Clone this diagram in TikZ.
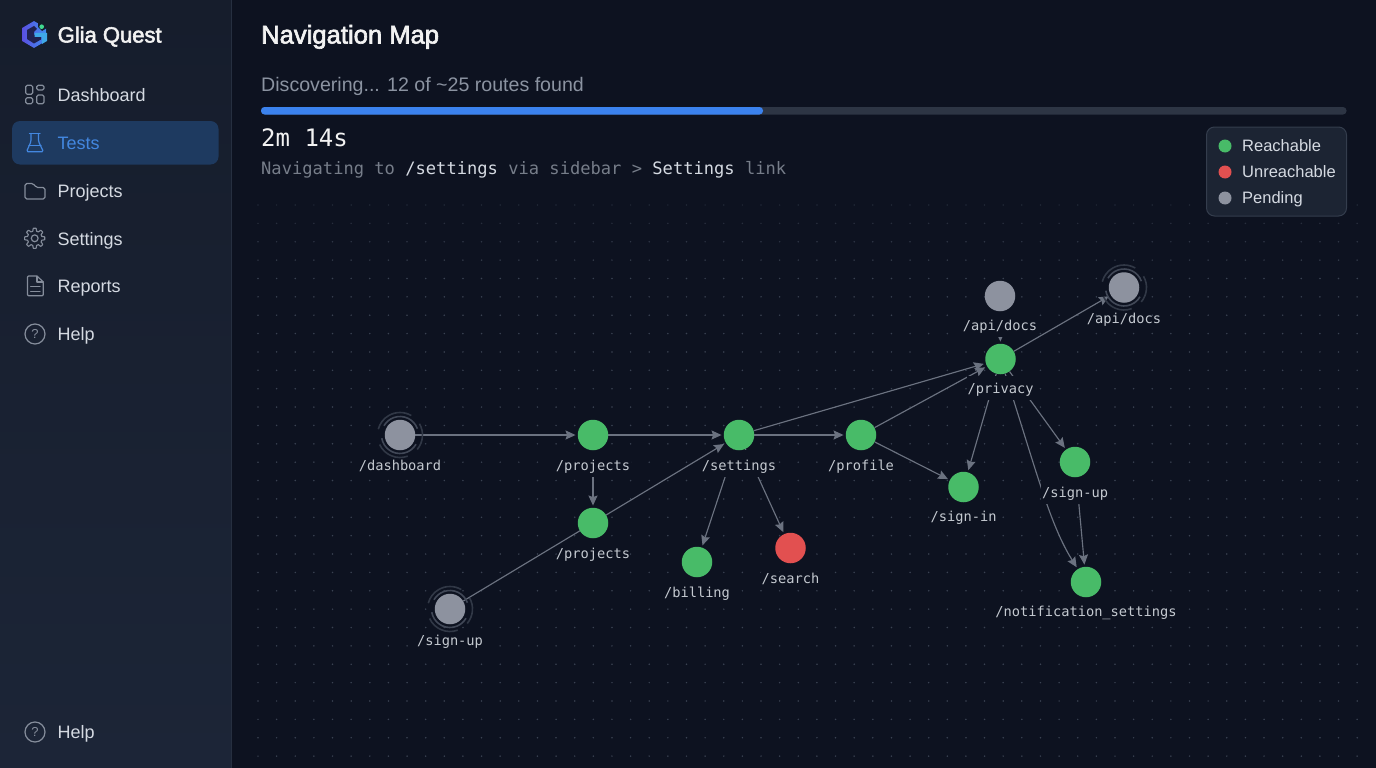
\documentclass[tikz,border=0pt]{standalone}
\usepackage{fontspec}
\setmainfont{Liberation Sans}
\setmonofont{DejaVu Sans Mono}
\newfontfamily\medfont[FakeBold=2.5]{Liberation Sans}
\usetikzlibrary{arrows.meta,shapes.geometric}
\pgfdeclarelayer{bglayer}
\pgfdeclarelayer{edgelayer}
\pgfsetlayers{bglayer,edgelayer,main}
\definecolor{bgmain}{HTML}{0D1220}
\definecolor{sidetop}{HTML}{161D2C}
\definecolor{sidebot}{HTML}{1C2537}
\definecolor{sideline}{HTML}{262F40}
\definecolor{navtext}{HTML}{D5DAE2}
\definecolor{icongray}{HTML}{858D9B}
\definecolor{activebg}{HTML}{1E3A60}
\definecolor{activefg}{HTML}{4387E0}
\definecolor{dimtext}{HTML}{8B93A1}
\definecolor{track}{HTML}{2D3544}
\definecolor{barblue}{HTML}{3B82EE}
\definecolor{legbg}{HTML}{1C2433}
\definecolor{legline}{HTML}{343D4D}
\definecolor{ok}{HTML}{48BB68}
\definecolor{bad}{HTML}{E25050}
\definecolor{pend}{HTML}{8D929F}
\definecolor{edgec}{HTML}{6B7280}
\definecolor{ringc}{HTML}{414857}
\definecolor{dotc}{HTML}{3A4252}
\definecolor{logoa}{HTML}{5A4FE0}
\definecolor{logob}{HTML}{3F8DF0}
\definecolor{logoc}{HTML}{20214F}
\definecolor{logod}{HTML}{3FA8E8}
\definecolor{logoe}{HTML}{40D890}
\tikzset{
  x=1pt,y=-1pt,
  navlabel/.style={anchor=base west,inner sep=0,text=navtext,font=\fontsize{18}{20}\selectfont},
  iconline/.style={draw=icongray,line width=1.2pt,line join=round,line cap=round},
  routedot/.style={circle,minimum size=30.5pt,inner sep=0},
  okdot/.style={routedot,fill=ok},
  baddot/.style={routedot,fill=bad},
  penddot/.style={routedot,fill=pend},
  routelabel/.style={anchor=base,fill=bgmain,inner xsep=1pt,inner ysep=0pt,text height=11pt,text depth=4pt,text=navtext!92!black,font=\ttfamily\fontsize{13.7}{15}\selectfont},
  tallabel/.style={routelabel,text height=20pt,text depth=7pt},
  edge/.style={draw=edgec,line width=1.15pt,-{Stealth[length=10pt,width=9pt,inset=1.5pt]},shorten >=2pt},
  legendlabel/.style={anchor=base west,inner sep=0,text=navtext,font=\fontsize{16.5}{18}\selectfont},
  legenddot/.style={circle,minimum size=13pt,inner sep=0},
  ringarc/.style={draw=ringc,line width=1.6pt},
}
\newcommand{\ringsat}[1]{%
  \draw[ringarc] (#1) ++(20:18.5pt) arc[start angle=20,end angle=150,radius=18.5pt];
  \draw[ringarc] (#1) ++(190:18.5pt) arc[start angle=190,end angle=330,radius=18.5pt];
  \draw[ringarc,draw=ringc!70!bgmain] (#1) ++(60:22.5pt) arc[start angle=60,end angle=165,radius=22.5pt];
  \draw[ringarc,draw=ringc!70!bgmain] (#1) ++(205:22.5pt) arc[start angle=205,end angle=290,radius=22.5pt];
  \draw[ringarc,draw=ringc!70!bgmain] (#1) ++(-40:22.5pt) arc[start angle=-40,end angle=30,radius=22.5pt];
}
\begin{document}
\begin{tikzpicture}
\useasboundingbox (0,0) rectangle (1376,768);
\begin{pgfonlayer}{bglayer}
% backgrounds
\fill[bgmain] (0,0) rectangle (1376,768);
\shade[top color=sidetop,bottom color=sidebot] (0,0) rectangle (231,768);
\fill[sideline] (230.5,0) rectangle (232,768);
% dot grid
\foreach \i in {0,...,59}{
  \foreach \j in {0,...,30}{
    \pgfmathsetmacro{\dx}{258+18.63*\i}
    \pgfmathsetmacro{\dy}{205+18.37*\j}
    \pgfmathtruncatemacro{\dk}{min(100,45+\j*14)}
    \fill[dotc!\dk!bgmain] (\dx,\dy) circle[radius=0.85pt];
  }
}
\end{pgfonlayer}
% logo
\fill[left color=logoa,right color=logob] (34,21) -- (46,28) -- (46,41) -- (34,48) -- (22,41) -- (22,28) -- cycle;
\fill[logoc] (34,26) -- (27,30) -- (27,39) -- (34,43.5) -- (41,39.5) -- (41,35) -- (34,35) -- (34,32) -- (37,29) -- cycle;
\fill[logod] (34.5,33) -- (47,33) -- (47,41) -- (42,44) -- (42,37) -- (34.5,37) -- cycle;
\fill[sidetop] (38,21) -- (47,21) -- (47,28) -- (42,31) -- (38,27) -- cycle;
\fill[logoe] (41.7,26.7) circle[radius=2.3pt];
\node[anchor=base west,inner sep=0,text=white!95!black,font=\medfont\fontsize{22}{24}\selectfont] (brand) at (57.5,42.5) {Glia Quest};
% active row
\fill[activebg,rounded corners=8pt] (12,121) rectangle (218.5,164.5);
% nav labels
\node[navlabel] (navdash) at (57.5,101) {Dashboard};
\node[navlabel,text=activefg] (navtests) at (57.5,149) {Tests};
\node[navlabel] (navproj) at (57.5,197) {Projects};
\node[navlabel] (navset) at (57.5,245) {Settings};
\node[navlabel] (navrep) at (57.5,292.5) {Reports};
\node[navlabel] (navhelp) at (57.5,340.5) {Help};
\node[navlabel] (navhelpb) at (57.5,738.5) {Help};
% icons
\draw[iconline,rounded corners=1.5pt] (25.7,85.3) rectangle (32.7,94.3);
\draw[iconline,rounded corners=1.5pt] (36.7,85.3) rectangle (44,90);
\draw[iconline,rounded corners=1.5pt] (25.7,97.7) rectangle (32.7,103.7);
\draw[iconline,rounded corners=1.5pt] (36.7,95) rectangle (44,103.7);
\draw[iconline,draw=activefg,rounded corners=1.5pt] (31,133.5) -- (31,141.5) -- (26.5,151.8) -- (43.5,151.8) -- (38.5,141.5) -- (38.5,133.5);
\draw[iconline,draw=activefg] (29.5,133.5) -- (40,133.5);
\draw[iconline,draw=activefg] (29,145.5) -- (41,145.5);
\draw[iconline,rounded corners=1.8pt] (25,183.5) -- (33.5,183.5) -- (36,187.5) -- (45,187.5) -- (45,199) -- (25,199) -- cycle;
\draw[iconline,line width=1.1pt,variable=\t,domain=0:360,samples=193,line join=round] plot ({34.7+(8.7+1.4*max(-1,min(1,2.2*cos(8*\t))))*cos(\t)},{238.3+(8.7+1.4*max(-1,min(1,2.2*cos(8*\t))))*sin(\t)}) -- cycle;
\draw[iconline] (34.7,238.3) circle[radius=3.4pt];
\draw[iconline,rounded corners=1pt] (37,276) -- (27.5,276) -- (27.5,295.7) -- (43.3,295.7) -- (43.3,282) -- cycle;
\draw[iconline] (37,276) -- (37,282) -- (43.3,282);
\draw[iconline] (30.7,286.8) -- (40,286.8);
\draw[iconline] (30.7,291.5) -- (40,291.5);
\draw[iconline] (35,334) circle[radius=10pt];
\node[inner sep=0,text=icongray,font=\fontsize{13}{14}\selectfont] (qone) at (35,334) {?};
\draw[iconline] (35,732) circle[radius=10pt];
\node[inner sep=0,text=icongray,font=\fontsize{13}{14}\selectfont] (qtwo) at (35,732) {?};
% header
\node[anchor=base west,inner sep=0,text=white!95!black,font=\medfont\fontsize{25.6}{27}\selectfont] (title) at (261,43.5) {Navigation Map};
\node[anchor=base west,inner sep=0,text=dimtext,font=\fontsize{19.6}{21}\selectfont] (status) at (261,92) {Discovering... 12 of \char`~25 routes found};
\fill[track,rounded corners=3.5pt] (261,107) rectangle (1346.5,114.5);
\fill[barblue,rounded corners=3.5pt] (261,107) rectangle (763,114.5);
\node[anchor=base west,inner sep=0,text=white!95!black,font=\ttfamily\fontsize{24}{26}\selectfont] (timer) at (261,146.5) {2m 14s};
\node[anchor=base west,inner sep=0,text=dimtext!85!black,font=\ttfamily\fontsize{17.1}{19}\selectfont] (navstat) at (261,174.5) {Navigating to \textcolor{navtext}{/settings} via sidebar > \textcolor{navtext}{Settings} link};
% legend
\draw[draw=legline,fill=legbg,rounded corners=8pt,line width=1pt] (1206.5,127) rectangle (1346.5,216);
\node[legenddot,fill=ok] (legok) at (1225,146) {};
\node[legenddot,fill=bad] (legbad) at (1225,172) {};
\node[legenddot,fill=pend] (legpend) at (1225,198) {};
\node[legendlabel] (legoktxt) at (1242,151.5) {Reachable};
\node[legendlabel] (legbadtxt) at (1242,177.5) {Unreachable};
\node[legendlabel] (legpendtxt) at (1242,203.5) {Pending};
% graph nodes
\node[penddot] (dash) at (400,435) {};
\node[okdot] (proja) at (593,435) {};
\node[okdot] (projb) at (593,523) {};
\node[penddot] (signa) at (450,609) {};
\node[okdot] (sett) at (739,435) {};
\node[okdot] (prof) at (861,435) {};
\node[okdot] (bill) at (697,562) {};
\node[baddot] (sear) at (790.5,548) {};
\node[okdot] (signi) at (963.5,487) {};
\node[okdot] (priv) at (1000.5,359) {};
\node[penddot] (apia) at (1000,296) {};
\node[penddot] (apib) at (1124,287.5) {};
\node[okdot] (signb) at (1075,462) {};
\node[okdot] (noti) at (1086,582) {};
\ringsat{dash}
\ringsat{signa}
\ringsat{apib}
% edges, with the labels that mask them
\begin{pgfonlayer}{edgelayer}
\draw[edge] (dash) -- (proja);
\draw[edge] (proja) -- (sett);
\draw[edge] (proja) -- (projb);
\draw[edge] (sett) -- (prof);
\draw[edge] (sett) -- (priv);
\draw[edge] (sett) -- (bill);
\draw[edge] (sett) -- (sear);
\draw[edge] (prof) -- (priv);
\draw[edge] (prof) -- (signi);
\draw[edge] (apia) -- (priv);
\draw[edge] (priv) -- (signi);
\draw[edge] (priv) -- (signb);
\draw[edge] (priv) .. controls (1036,470) and (1050,525) .. (noti);
\draw[edge] (signb) -- (noti);
\node[tallabel] (lproja) at (593,470) {/projects};
\node[tallabel] (lsett) at (739,470) {/settings};
\node[tallabel,text height=17pt] (lpriv) at (1000.5,393) {/privacy};
\node[tallabel,text depth=6.5pt] (lapia) at (1000,330.5) {/api/docs};
\node[tallabel] (lsignb) at (1075,497.3) {/sign-up};
\draw[edge] (signa) -- (sett);
\draw[edge] (priv) -- (apib);
\end{pgfonlayer}
% other route labels
\node[routelabel] (ldash) at (400,470) {/dashboard};
\node[routelabel,fill=none] (lprojb) at (593,558) {/projects};
\node[routelabel] (lsigna) at (450,645) {/sign-up};
\node[routelabel] (lprof) at (861,470) {/profile};
\node[routelabel] (lbill) at (697,597.3) {/billing};
\node[routelabel] (lsear) at (790.5,583.3) {/search};
\node[routelabel] (lsigni) at (963.5,521.7) {/sign-in};
\node[routelabel,fill=none] (lapib) at (1124,323.3) {/api/docs};
\node[routelabel] (lnoti) at (1086,616.7) {/notification\_settings};
\end{tikzpicture}
\end{document}
